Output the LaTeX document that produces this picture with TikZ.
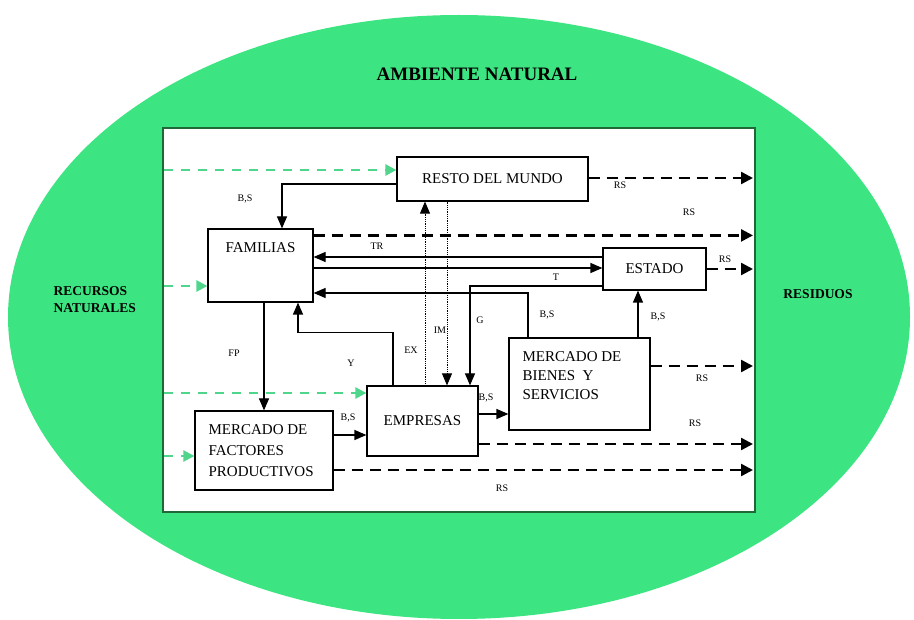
\documentclass[tikz,border=0pt]{standalone}
\usepackage{fontspec}
\setmainfont{Liberation Serif}
\usetikzlibrary{arrows.meta, positioning}
\definecolor{ambiente}{RGB}{60,229,129}
\definecolor{verdeflecha}{RGB}{80,214,140}
\definecolor{marco}{RGB}{30,105,55}

\begin{document}
\begin{tikzpicture}[x=1pt,y=-1pt,
  every node/.style={font=\fontsize{15}{19}\selectfont},
  caja/.style={draw, line width=1.2pt, inner sep=0pt},
  flujo/.style={line width=1.2pt, -{Triangle[length=12pt,width=10pt]}},
  punteado/.style={line width=0.8pt, densely dotted, -{Triangle[length=12pt,width=10pt]}},
  residuo/.style={line width=2.5pt, dash pattern=on 11pt off 7pt, -{Triangle[length=12pt,width=12pt]}},
  recurso/.style={verdeflecha, line width=2.5pt, dash pattern=on 9pt off 8pt, -{Triangle[length=11pt,width=11pt]}},
  etq/.style={font=\fontsize{10}{11}\selectfont},
  lateral/.style={font=\fontsize{13.5}{17}\selectfont\bfseries}]
\useasboundingbox (0,0) rectangle (914,620);
% ambiente natural
\fill[ambiente] (459,317) ellipse [x radius=451, y radius=302];
\draw[marco, line width=1.5pt, fill=white] (163,128) rectangle (755,512);
\node[font=\fontsize{19}{22}\selectfont\bfseries] (amb) at (477,74) {AMBIENTE NATURAL};
\node[lateral, align=left, anchor=west] (rn) at (50,300) {RECURSOS\\NATURALES};
\node[lateral] (res) at (818,294) {RESIDUOS};
% agentes y mercados
\node[caja, minimum width=191pt, minimum height=44pt] (rdm) at (492.5,179) {RESTO DEL MUNDO};
\node[caja, minimum width=105pt, minimum height=73pt] (fam) at (260.5,265.5) {};
\node (tfam) at ([yshift=-19pt]fam.north) {FAMILIAS};
\node[caja, minimum width=103pt, minimum height=42pt] (est) at (654.5,269) {ESTADO};
\node[caja, minimum width=141pt, minimum height=92pt] (mbs) at (579.5,384) {};
\node[anchor=north west, align=left, inner sep=0pt] (tmbs) at ([xshift=14pt,yshift=-14pt]mbs.north west)
  {MERCADO DE\\BIENES\ \ Y\\SERVICIOS};
\node[caja, minimum width=111pt, minimum height=70pt] (emp) at (422.5,421) {EMPRESAS};
\node[caja, minimum width=138pt, minimum height=79pt] (mfp) at (264,450.5) {};
\node[anchor=north west, align=left, inner sep=0pt] (tmfp) at ([xshift=14pt,yshift=-14pt]mfp.north west)
  {MERCADO DE\\[2pt]FACTORES\\[2pt]PRODUCTIVOS};
% recursos naturales que entran
\coordinate (e1) at (164,170);
\coordinate (e2) at (164,286);
\coordinate (e3) at (164,393);
\coordinate (e4) at (164,456);
\draw[recurso] (e1) -- (e1 -| rdm.west);
\draw[recurso] (e2) -- (e2 -| fam.west);
\draw[recurso] (e3) -- (e3 -| emp.west);
\draw[recurso] (e4) -- (e4 -| mfp.west);
% residuos que salen
\coordinate (fr) at (753,0);
\coordinate (s1) at ([yshift=1pt]rdm.east);
\coordinate (s2) at ([yshift=-7pt]fam.north east);
\coordinate (s3) at (est.east);
\coordinate (s4) at ([yshift=18pt]mbs.east);
\coordinate (s5) at ([yshift=-23pt]emp.east);
\coordinate (s6) at ([yshift=-19.5pt]mfp.east);
\foreach \s in {s1,s2,s3,s4,s5,s6}
  \draw[residuo] (\s) -- (\s -| fr);
% flujos reales y monetarios
\draw[flujo] ([yshift=-5pt]rdm.west) -| ([xshift=21.5pt]fam.north);
\coordinate (tr) at ([yshift=12pt]est.west);
\draw[flujo] (tr) -- (tr -| fam.east);
\coordinate (t) at ([yshift=-2.5pt]fam.east);
\draw[flujo] (t) -- (t -| est.west);
\draw[flujo] ([yshift=-17pt]est.west) -| ([xshift=47.5pt]emp.north);
\coordinate (bs) at ([xshift=-51.5pt]mbs.north);
\draw[flujo] (bs) |- ([yshift=-27.5pt]fam.east);
\coordinate (be) at ([xshift=58.5pt]mbs.north);
\draw[flujo] (be) -- (be |- est.south);
\draw[flujo] ([xshift=-29.5pt]emp.north) -- ++(0,-53) -| ([xshift=37.5pt]fam.south);
\draw[flujo] (mfp.north |- fam.south) -- (mfp.north);
\coordinate (fe) at ([yshift=15.5pt]mfp.east);
\draw[flujo] (fe) -- (fe -| emp.west);
\coordinate (em) at ([yshift=7pt]emp.east);
\draw[flujo] (em) -- (em -| mbs.west);
% comercio exterior
\coordinate (ex) at ([xshift=2.5pt]emp.north);
\draw[punteado] (ex) -- (ex |- rdm.south);
\coordinate (im) at ([xshift=24.5pt]emp.north);
\draw[punteado] (im |- rdm.south) -- (im);
% etiquetas
\node[etq] (l1) at (245,199) {B,S};
\node[etq] (l2) at (377,246) {TR};
\node[etq] (l3) at (556,277) {T};
\node[etq] (l4) at (480,320) {G};
\node[etq] (l5) at (547,315) {B,S};
\node[etq] (l6) at (658,317) {B,S};
\node[etq] (l7) at (440,330) {IM};
\node[etq] (l8) at (411,350) {EX};
\node[etq] (l9) at (351,363) {Y};
\node[etq] (l10) at (234,353) {FP};
\node[etq] (l11) at (348,418) {B,S};
\node[etq] (l12) at (486,398) {B,S};
\node[etq] (r1) at (620,185) {RS};
\node[etq] (r2) at (689,212) {RS};
\node[etq] (r3) at (725,259) {RS};
\node[etq] (r4) at (702,378) {RS};
\node[etq] (r5) at (695,423) {RS};
\node[etq] (r6) at (502,488) {RS};
\end{tikzpicture}
\end{document}
